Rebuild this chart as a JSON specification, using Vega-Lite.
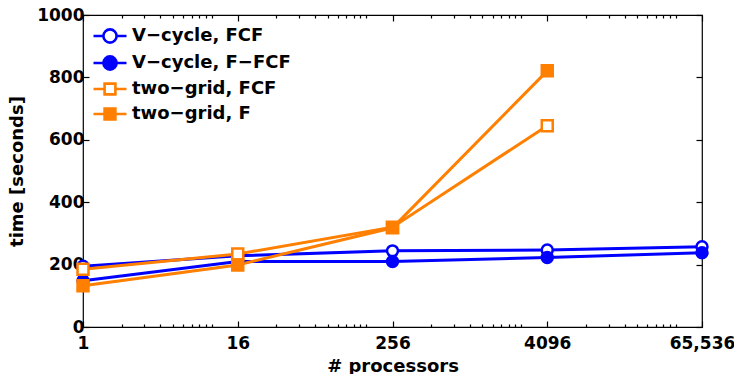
{
  "$schema": "https://vega.github.io/schema/vega-lite/v6.json",
  "width": 619,
  "height": 312,
  "autosize": {"type": "none"},
  "padding": {"left": 83, "top": 15, "right": 32, "bottom": 47},
  "background": "white",
  "config": {
    "view": {"stroke": "black", "strokeWidth": 1.2},
    "font": "DejaVu Sans",
    "axis": {
      "labelFont": "DejaVu Sans", "labelFontWeight": "bold", "labelFontSize": 17, "labelColor": "black",
      "titleFont": "DejaVu Sans", "titleFontWeight": "bold", "titleFontSize": 18, "titleColor": "black",
      "domain": false, "grid": false, "tickColor": "black", "tickWidth": 1.2
    },
    "legend": {"labelFont": "DejaVu Sans", "labelFontWeight": "bold", "labelFontSize": 18, "labelColor": "black"}
  },
  "data": {
    "values": [
      {"series": "V−cycle, FCF", "procs": 1, "time": 195},
      {"series": "V−cycle, FCF", "procs": 16, "time": 228},
      {"series": "V−cycle, FCF", "procs": 256, "time": 244},
      {"series": "V−cycle, FCF", "procs": 4096, "time": 247},
      {"series": "V−cycle, FCF", "procs": 65536, "time": 257},
      {"series": "V−cycle, F−FCF", "procs": 1, "time": 148},
      {"series": "V−cycle, F−FCF", "procs": 16, "time": 210},
      {"series": "V−cycle, F−FCF", "procs": 256, "time": 210},
      {"series": "V−cycle, F−FCF", "procs": 4096, "time": 223},
      {"series": "V−cycle, F−FCF", "procs": 65536, "time": 238},
      {"series": "two−grid, FCF", "procs": 1, "time": 185},
      {"series": "two−grid, FCF", "procs": 16, "time": 234},
      {"series": "two−grid, FCF", "procs": 256, "time": 320},
      {"series": "two−grid, FCF", "procs": 4096, "time": 645},
      {"series": "two−grid, F", "procs": 1, "time": 132},
      {"series": "two−grid, F", "procs": 16, "time": 199},
      {"series": "two−grid, F", "procs": 256, "time": 318},
      {"series": "two−grid, F", "procs": 4096, "time": 821}
    ]
  },
  "layer": [
    {
      "mark": {"type": "line", "strokeWidth": 3, "clip": false},
      "encoding": {
        "x": {
          "field": "procs", "type": "quantitative",
          "scale": {"type": "log", "base": 16, "domain": [1, 65536], "nice": false},
          "axis": {
            "orient": "bottom", "title": "# processors", "titlePadding": 3,
            "values": [1,2,3,4,5,6,7,8,9,10,16,32,48,64,80,96,112,128,144,160,256,512,768,1024,1280,1536,1792,2048,2304,2560,4096,8192,12288,16384,20480,24576,28672,32768,36864,40960,65536],
            "labelExpr": "datum.value == 65536 ? '65,536' : (indexof([1,16,256,4096], datum.value) >= 0 ? datum.value + '' : '')",
            "tickSize": {"condition": {"test": "indexof([1,16,256,4096,65536], datum.value) >= 0", "value": -6}, "value": -3},
            "labelPadding": 14, "labelFlush": false, "labelOverlap": false, "labelBound": false
          }
        },
        "y": {
          "field": "time", "type": "quantitative",
          "scale": {"domain": [0, 1000], "nice": false},
          "axis": {
            "orient": "left", "title": "time [seconds]", "values": [0,200,400,600,800,1000],
            "labelExpr": "datum.value + ''",
            "tickSize": -6, "labelPadding": 5, "titlePadding": 10
          }
        },
        "stroke": {
          "field": "series", "type": "nominal",
          "scale": {"domain": ["V−cycle, FCF", "V−cycle, F−FCF", "two−grid, FCF", "two−grid, F"], "range": ["#0000ff", "#0000ff", "#ff7f00", "#ff7f00"]},
          "legend": null
        }
      }
    },
    {
      "mark": {"type": "point", "filled": true, "strokeWidth": 2.5, "opacity": 1, "clip": false},
      "encoding": {
        "x": {
          "field": "procs", "type": "quantitative",
          "axis": {
            "orient": "top", "title": null, "labels": false,
            "values": [1,2,3,4,5,6,7,8,9,10,16,32,48,64,80,96,112,128,144,160,256,512,768,1024,1280,1536,1792,2048,2304,2560,4096,8192,12288,16384,20480,24576,28672,32768,36864,40960,65536],
            "tickSize": {"condition": {"test": "indexof([1,16,256,4096,65536], datum.value) >= 0", "value": -6}, "value": -3}
          }
        },
        "y": {
          "field": "time", "type": "quantitative",
          "axis": {"orient": "right", "title": null, "labels": false, "values": [0,200,400,600,800,1000], "tickSize": -6}
        },
        "shape": {
          "field": "series", "type": "nominal",
          "scale": {"domain": ["V−cycle, FCF", "V−cycle, F−FCF", "two−grid, FCF", "two−grid, F"], "range": ["circle", "circle", "square", "square"]},
          "legend": null
        },
        "size": {
          "field": "series", "type": "nominal",
          "scale": {"domain": ["V−cycle, FCF", "V−cycle, F−FCF", "two−grid, FCF", "two−grid, F"], "range": [120, 120, 110, 110]},
          "legend": null
        },
        "stroke": {
          "field": "series", "type": "nominal",
          "scale": {"domain": ["V−cycle, FCF", "V−cycle, F−FCF", "two−grid, FCF", "two−grid, F"], "range": ["#0000ff", "#0000ff", "#ff7f00", "#ff7f00"]},
          "legend": null
        },
        "fill": {
          "field": "series", "type": "nominal",
          "scale": {"domain": ["V−cycle, FCF", "V−cycle, F−FCF", "two−grid, FCF", "two−grid, F"], "range": ["#ffffff", "#0000ff", "#ffffff", "#ff7f00"]},
          "legend": null
        }
      }
    },
    {
      "mark": {"type": "point", "filled": true, "strokeWidth": 2.5, "opacity": 0, "clip": false},
      "encoding": {
        "x": {"field": "procs", "type": "quantitative", "axis": null},
        "y": {"field": "time", "type": "quantitative", "axis": null},
        "shape": {
          "field": "series", "type": "nominal",
          "scale": {"domain": ["V−cycle, FCF", "V−cycle, F−FCF", "two−grid, FCF", "two−grid, F"], "range": [
            "M-2.2,0H-0.88M0.88,0H2.2M0.88,0A0.88,0.88,0,1,1,-0.88,0A0.88,0.88,0,1,1,0.88,0Z",
            "M-2.2,0H-0.88M0.88,0H2.2M0.88,0A0.88,0.88,0,1,1,-0.88,0A0.88,0.88,0,1,1,0.88,0Z",
            "M-2.2,0H-0.72M0.72,0H2.2M-0.72,-0.72H0.72V0.72H-0.72Z",
            "M-2.2,0H-0.72M0.72,0H2.2M-0.72,-0.72H0.72V0.72H-0.72Z"
          ]},
          "legend": {
            "title": null, "orient": "none", "legendX": 18, "legendY": 12, "padding": 0,
            "symbolSize": 225, "symbolStrokeWidth": 2.6, "symbolOpacity": 1, "labelOffset": 13, "rowPadding": 3
          }
        },
        "stroke": {
          "field": "series", "type": "nominal",
          "scale": {"domain": ["V−cycle, FCF", "V−cycle, F−FCF", "two−grid, FCF", "two−grid, F"], "range": ["#0000ff", "#0000ff", "#ff7f00", "#ff7f00"]},
          "legend": {"title": null, "orient": "none", "legendX": 18, "legendY": 12, "padding": 0, "symbolSize": 225, "symbolStrokeWidth": 2.6, "symbolOpacity": 1, "labelOffset": 13, "rowPadding": 3}
        },
        "fill": {
          "field": "series", "type": "nominal",
          "scale": {"domain": ["V−cycle, FCF", "V−cycle, F−FCF", "two−grid, FCF", "two−grid, F"], "range": ["#ffffff", "#0000ff", "#ffffff", "#ff7f00"]},
          "legend": {"title": null, "orient": "none", "legendX": 18, "legendY": 12, "padding": 0, "symbolSize": 225, "symbolStrokeWidth": 2.6, "symbolOpacity": 1, "labelOffset": 13, "rowPadding": 3}
        }
      }
    }
  ],
  "resolve": {
    "scale": {"shape": "independent", "stroke": "independent", "fill": "independent", "size": "independent"},
    "axis": {"x": "independent", "y": "independent"}
  }
}
